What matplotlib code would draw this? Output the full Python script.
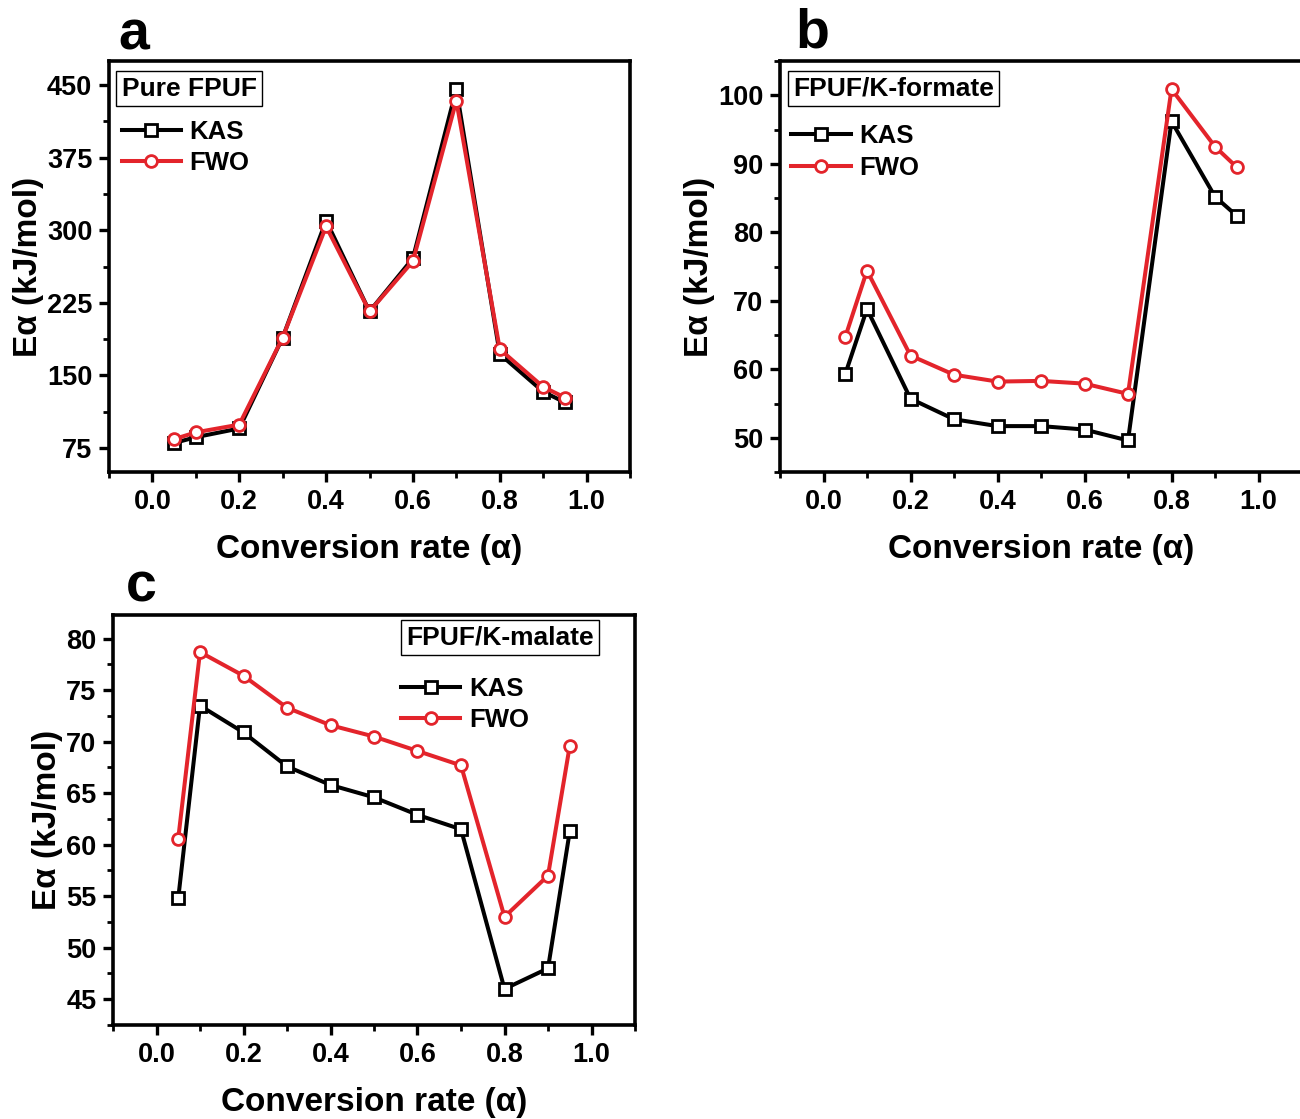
import matplotlib
matplotlib.use("Agg")
import matplotlib.pyplot as plt
from matplotlib.ticker import MultipleLocator, FixedLocator

plt.rcParams['font.family'] = ['Liberation Sans', 'DejaVu Sans']
plt.rcParams['font.weight'] = 'bold'

alpha = [0.05, 0.1, 0.2, 0.3, 0.4, 0.5, 0.6, 0.7, 0.8, 0.9, 0.95]

a_kas = [80, 86, 95, 189, 310, 216, 271, 446, 172, 133, 122]
a_fwo = [84, 91, 99, 189, 304, 216, 268, 434, 177, 138, 127]

b_kas = [59.3, 68.8, 55.7, 52.7, 51.7, 51.7, 51.2, 49.6, 96.2, 85.2, 82.4]
b_fwo = [64.7, 74.4, 62.0, 59.2, 58.2, 58.3, 57.9, 56.4, 100.9, 92.5, 89.5]

c_kas = [54.8, 73.5, 70.9, 67.6, 65.8, 64.6, 62.9, 61.5, 46.0, 48.0, 61.3]
c_fwo = [60.6, 78.7, 76.4, 73.3, 71.6, 70.5, 69.1, 67.7, 53.0, 57.0, 69.6]

panel_titles = ["Pure FPUF", "FPUF/K-formate", "FPUF/K-malate"]
panel_letters = ["a", "b", "c"]
series_names = ["KAS", "FWO"]
x_ticks = [0.0, 0.2, 0.4, 0.6, 0.8, 1.0]
a_yticks = [75, 150, 225, 300, 375, 450]
b_yticks = [50, 60, 70, 80, 90, 100]
c_yticks = [45, 50, 55, 60, 65, 70, 75, 80]

RED = '#E3242B'
W, H = 1300, 1119
fig = plt.figure(figsize=(W / 100, H / 100), dpi=100)


def make_ax(left, top, right, bottom):
    return fig.add_axes([left / W, 1 - bottom / H, (right - left) / W, (bottom - top) / H])


def style(ax, ylim, yticks, yminor):
    ax.set_xlim(-0.1, 1.1)
    ax.set_ylim(*ylim)
    ax.xaxis.set_major_locator(FixedLocator(x_ticks))
    ax.xaxis.set_minor_locator(MultipleLocator(0.1))
    ax.yaxis.set_major_locator(FixedLocator(yticks))
    ax.yaxis.set_minor_locator(MultipleLocator(yminor))
    ax.set_xticklabels([f"{t:.1f}" for t in x_ticks])
    ax.set_yticklabels([str(t) for t in yticks])
    for s in ax.spines.values():
        s.set_linewidth(2.6)
    ax.tick_params(which='major', direction='out', length=7, width=2.4,
                   labelsize=19.5, pad=5)
    ax.tick_params(which='minor', direction='out', length=4, width=2.0)
    ax.tick_params(top=False, right=False, which='both')
    for lab in ax.get_xticklabels() + ax.get_yticklabels():
        lab.set_fontweight('bold')
    ax.set_xlabel("Conversion rate (α)", fontsize=24, fontweight='bold', labelpad=14)
    ax.set_ylabel("Eα (kJ/mol)", fontsize=24, fontweight='bold', labelpad=2)


def draw(ax, kas, fwo):
    ax.plot(alpha, kas, color='black', lw=2.9, marker='s', ms=8, mfc='white',
            mec='black', mew=2.0, label=series_names[0], zorder=3)
    ax.plot(alpha, fwo, color=RED, lw=2.9, marker='o', ms=8.5, mfc='white',
            mec=RED, mew=2.0, label=series_names[1], zorder=4)


def boxes(ax, title, tx, ty, lx, ly, ha='left'):
    ax.text(tx, ty, title, transform=ax.transAxes, fontsize=19, fontweight='bold',
            ha=ha, va='top',
            bbox=dict(boxstyle='square,pad=0.2', fc='white', ec='black', lw=1.0))
    ax.legend(loc='upper left', bbox_to_anchor=(lx, ly), frameon=False,
              handlelength=2.3, handletextpad=0.35,
              labelspacing=0.3, borderpad=0, borderaxespad=0,
              prop={'weight': 'bold', 'size': 18.5})


# Panel a
axa = make_ax(109, 61, 630, 472)
draw(axa, a_kas, a_fwo)
style(axa, (50, 475), a_yticks, 37.5)
boxes(axa, panel_titles[0], 0.024, 0.962, 0.024, 0.857)

# Panel b
axb = make_ax(780, 61, 1302, 472)
draw(axb, b_kas, b_fwo)
style(axb, (45, 105), b_yticks, 5)
boxes(axb, panel_titles[1], 0.025, 0.962, 0.022, 0.847)

# Panel c
axc = make_ax(113, 615, 635, 1025)
draw(axc, c_kas, c_fwo)
style(axc, (42.5, 82.3), c_yticks, 2.5)
boxes(axc, panel_titles[2], 0.562, 0.975, 0.552, 0.85)

fig.text(118 / W, 1 - 49 / H, panel_letters[0], fontsize=40, fontweight='bold', ha='left', va='baseline')
fig.text(795 / W, 1 - 47 / H, panel_letters[1], fontsize=40, fontweight='bold', ha='left', va='baseline')
fig.text(126 / W, 1 - 602 / H, panel_letters[2], fontsize=40, fontweight='bold', ha='left', va='baseline')

fig.savefig("out.png", dpi=100, facecolor='white')
